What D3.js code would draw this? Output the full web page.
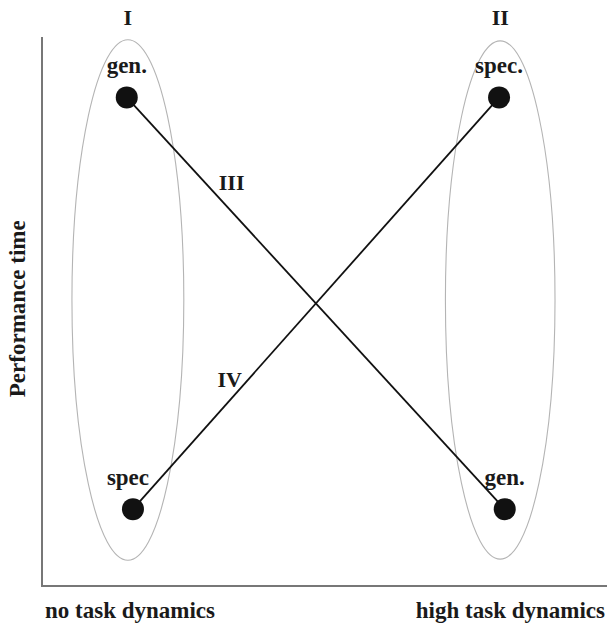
<!DOCTYPE html>
<html>
<head>
<meta charset="utf-8">
<script src="https://cdn.jsdelivr.net/npm/d3@7"></script>
<style>
  body { margin: 0; background: #fff; }
  text { font-family: "Liberation Serif", "Times New Roman", serif; font-weight: bold; fill: #1a1a1a; }
</style>
</head>
<body>
<div id="vis"></div>
<script>
// data (x: task dynamics 0..1, y: performance time 0..1)
var groups = ["I", "II"];
var groupCx = [0.152, 0.811];
var groupCy = [0.521, 0.521];
var groupRx = [0.099, 0.097];
var groupRy = [0.474, 0.472];

var genX = [0.150, 0.819];
var genY = [0.89, 0.14];
var specX = [0.161, 0.809];
var specY = [0.14, 0.89];
var pointLabels = { gen: ["gen.", "gen."], spec: ["spec", "spec."] };
var lineLabels = ["III", "IV"];
var lineLabelT = [0.206, 0.316];

var xLabels = ["no task dynamics", "high task dynamics"];
var yLabel = "Performance time";

var width = 607, height = 626;
var margin = { top: 37, left: 42, bottom: 40, right: 0 };

var x = d3.scaleLinear().domain([0, 1]).range([margin.left, width - margin.right]);
var y = d3.scaleLinear().domain([0, 1]).range([height - margin.bottom, margin.top]);

var svg = d3.select('#vis').append('svg')
  .attr('width', width)
  .attr('height', height);

// axes (plain lines, no ticks)
svg.append('line')
  .attr('x1', x(0)).attr('x2', x(0))
  .attr('y1', y(1)).attr('y2', y(0) + 1)
  .attr('stroke', '#777').attr('stroke-width', 2);
svg.append('line')
  .attr('x1', x(0)).attr('x2', x(1))
  .attr('y1', y(0)).attr('y2', y(0))
  .attr('stroke', '#777').attr('stroke-width', 2);

// group ellipses
svg.selectAll('ellipse.group')
  .data(groups).enter()
  .append('ellipse')
  .attr('class', 'group')
  .attr('cx', (d, i) => x(groupCx[i]))
  .attr('cy', (d, i) => y(groupCy[i]))
  .attr('rx', (d, i) => x(groupRx[i]) - x(0))
  .attr('ry', (d, i) => y(0) - y(groupRy[i]))
  .attr('fill', 'none')
  .attr('stroke', '#b4b4b4')
  .attr('stroke-width', 1.1);

svg.selectAll('text.group')
  .data(groups).enter()
  .append('text')
  .attr('class', 'group')
  .attr('x', (d, i) => x(groupCx[i]))
  .attr('y', 25)
  .attr('text-anchor', 'middle')
  .attr('font-size', 22)
  .attr('font-weight', 'normal')
  .text(d => d);

var series = [
  { key: 'gen', xs: genX, ys: genY },
  { key: 'spec', xs: specX, ys: specY }
];

// connecting lines
svg.selectAll('line.series')
  .data(series).enter()
  .append('line')
  .attr('class', 'series')
  .attr('x1', d => x(d.xs[0])).attr('y1', d => y(d.ys[0]))
  .attr('x2', d => x(d.xs[1])).attr('y2', d => y(d.ys[1]))
  .attr('stroke', '#111')
  .attr('stroke-width', 1.8);

// line labels III / IV (III right of its line, IV left of its line)
var labelDx = [27, -19];
svg.selectAll('text.lineLabel')
  .data(series).enter()
  .append('text')
  .attr('class', 'lineLabel')
  .attr('x', (d, i) => x(d.xs[0] + (d.xs[1] - d.xs[0]) * lineLabelT[i]) + labelDx[i])
  .attr('y', (d, i) => y(d.ys[0] + (d.ys[1] - d.ys[0]) * lineLabelT[i]) + 8)
  .attr('text-anchor', 'middle')
  .attr('font-size', 22)
  .text((d, i) => lineLabels[i]);

// points and their labels
series.forEach(function (s) {
  svg.selectAll('circle.' + s.key)
    .data(s.xs).enter()
    .append('circle')
    .attr('class', s.key)
    .attr('cx', (d, i) => x(d))
    .attr('cy', (d, i) => y(s.ys[i]))
    .attr('r', 11)
    .attr('fill', '#111');
  svg.selectAll('text.' + s.key)
    .data(s.xs).enter()
    .append('text')
    .attr('class', s.key)
    .attr('x', (d, i) => x(d) - (s.key == 'spec' && i == 0 ? 5 : 0))
    .attr('y', (d, i) => y(s.ys[i]) - 24)
    .attr('text-anchor', 'middle')
    .attr('font-size', 23)
    .text((d, i) => pointLabels[s.key][i]);
});

// axis titles
svg.append('text')
  .attr('x', 45)
  .attr('y', 618)
  .attr('font-size', 23)
  .text(xLabels[0]);
svg.append('text')
  .attr('x', 605)
  .attr('y', 618)
  .attr('text-anchor', 'end')
  .attr('font-size', 23)
  .text(xLabels[1]);
svg.append('text')
  .attr('transform', 'translate(25,' + y(0.505) + ') rotate(-90)')
  .attr('text-anchor', 'middle')
  .attr('font-size', 23)
  .text(yLabel);
</script>
</body>
</html>
